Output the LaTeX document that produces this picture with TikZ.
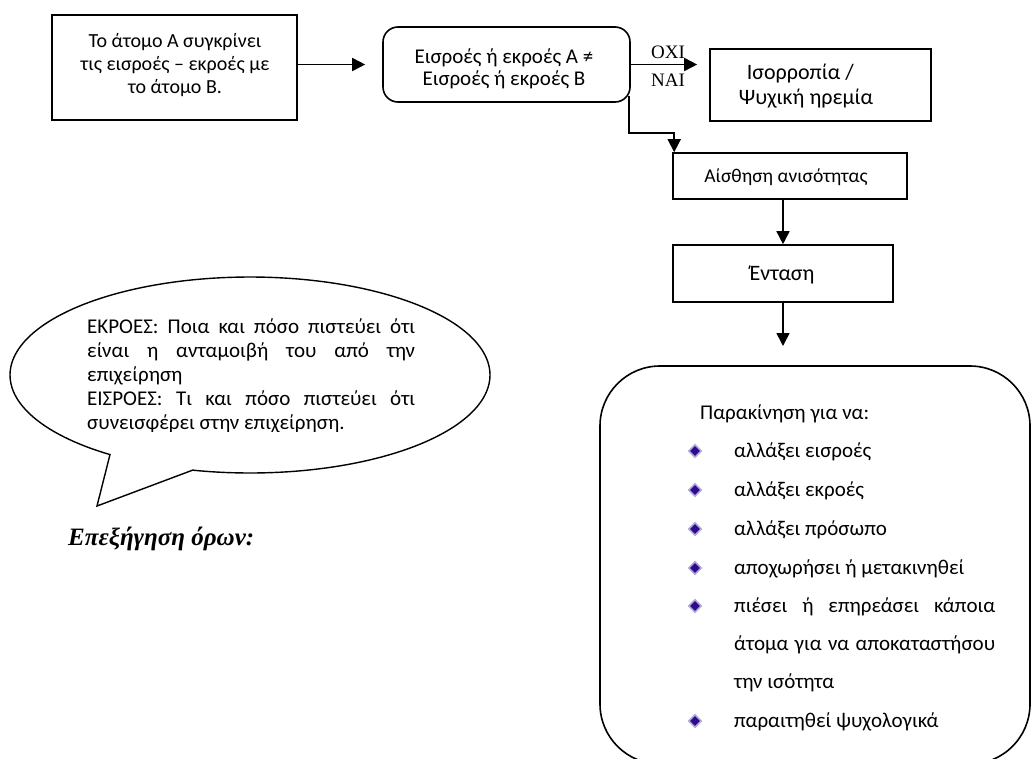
\documentclass[tikz,border=0pt]{standalone}
\usepackage{fontspec}
\setmainfont{Carlito}
\newfontfamily\serifgr{Liberation Serif}
\usetikzlibrary{arrows.meta,shapes.geometric}
\definecolor{bulfill}{HTML}{2E0B8E}
\definecolor{bulline}{HTML}{B3ABDB}
\begin{document}
\begin{tikzpicture}[x=1pt,y=-1pt,
  font=\fontsize{21}{24}\selectfont,
  box/.style={draw, line width=1.6pt, inner sep=0pt},
  arr/.style={line width=1.6pt, -{Triangle[length=13pt,width=13pt]}},
  bul/.style={diamond, fill=bulfill, draw=bulline, line width=1.6pt, minimum size=13pt, inner sep=0pt},
  txt/.style={inner sep=0pt, anchor=base west},
  lbl/.style={inner sep=0pt, font=\serifgr\fontsize{19}{23}\selectfont}]
\useasboundingbox (0,0) rectangle (1033,758);
\clip (0,0) rectangle (1033,758);

% top row
\node[box, minimum width=245pt, minimum height=105pt] (b1) at (174.5,67.5) {};
\node[inner sep=0pt, align=center, font=\fontsize{20}{23}\selectfont] (t1) at (175,65)
  {Το άτομο Α συγκρίνει\\τις εισροές – εκροές με\\το άτομο Β.};
\node[box, rounded corners=15pt, minimum width=247pt, minimum height=75pt] (b2) at (506.5,64.5) {};
\node[inner sep=0pt, align=center, font=\fontsize{21}{22.5}\selectfont] (t2) at (504,69)
  {Εισροές ή εκροές Α ≠\\Εισροές ή εκροές Β};
\node[box, minimum width=221pt, minimum height=72pt] (b3) at (820.5,85) {};
\node[inner sep=0pt, align=left, font=\fontsize{22}{25}\selectfont] (t3) at (806,86)
  {\hspace*{8pt}Ισορροπία /\\Ψυχική ηρεμία};

\draw[arr] (b1.east |- b2.west) -- ([xshift=-17pt]b2.west);
\draw[arr] (b2.east) -- ([xshift=-12pt]b3.west |- b2.east);
\node[lbl] (oxi) at (668,52) {ΟΧΙ};
\node[lbl] (nai) at (668,80) {ΝΑΙ};

% chain
\node[box, minimum width=234pt, minimum height=46pt] (b4) at (790,176) {};
\node[inner sep=0pt, font=\fontsize{19.5}{23}\selectfont] (t4) at (786,177) {Αίσθηση ανισότητας};
\node[box, minimum width=220pt, minimum height=57pt] (b5) at (783,273.5) {};
\node[inner sep=0pt, font=\fontsize{22}{25}\selectfont] (t5) at (782,275) {Ένταση};
\draw[arr] ([xshift=-2pt,yshift=7pt]b2.south east) -- ++(0,37) -| ([xshift=2pt]b4.north west);
\draw[arr] (b5.north |- b4.south) -- (b5.north);
\coordinate (bt) at (783,346);
\draw[arr] (b5.south) -- (bt);

% big rounded box
\node[box, rounded corners=60pt, minimum width=430pt, minimum height=398pt] (b6) at (815,565) {};
\node[txt] (p0) at (700,419) {Παρακίνηση για να:};
\node[bul] (d1) at (695,451) {};
\node[txt] (p1) at (734,457) {αλλάξει εισροές};
\node[bul] (d2) at (695,490) {};
\node[txt] (p2) at (734,496) {αλλάξει εκροές};
\node[bul] (d3) at (695,529) {};
\node[txt] (p3) at (734,535) {αλλάξει πρόσωπο};
\node[bul] (d4) at (695,568) {};
\node[txt] (p4) at (734,574) {αποχωρήσει ή μετακινηθεί};
\node[bul] (d5) at (695,606) {};
\node[txt] (p5) at (734,612) {\makebox[261pt][s]{πιέσει ή επηρεάσει κάποια}};
\node[txt] (p6) at (734,650) {\makebox[261pt][s]{άτομα για να αποκαταστήσου}};
\node[txt] (p7) at (734,688) {την ισότητα};
\node[bul] (d8) at (695,721) {};
\node[txt] (p8) at (734,727) {παραιτηθεί ψυχολογικά};

% callout
\coordinate (tip) at (97,506);
\coordinate (ta) at (110,454.6);
\coordinate (tb) at (193,470);
\draw[line width=1.4pt, fill=white, line join=miter]
  (ta) -- (tip) -- (tb) -- plot[domain=103.7:-234.3, samples=180]
  ({250+240*cos(\x)},{375+98*sin(\x)}) -- cycle;
\begin{scope}
\clip (0,0) rectangle (1033,431);
\node[txt] (ct) at (87,333) {\parbox[t]{328pt}{\fontsize{21}{24}\selectfont
  \hyphenpenalty=10000 \exhyphenpenalty=10000 \tolerance=10000
  ΕΚΡΟΕΣ: Ποια και πόσο πιστεύει ότι\linebreak
  είναι η ανταμοιβή του από την\linebreak
  επιχείρηση\\
  ΕΙΣΡΟΕΣ: Τι και πόσο πιστεύει ότι\linebreak
  συνεισφέρει στην επιχείρηση.}};
\end{scope}
\node[txt, font=\serifgr\bfseries\itshape\fontsize{25}{29}\selectfont] (ex) at (68,545) {Επεξήγηση όρων:};
\end{tikzpicture}
\end{document}
